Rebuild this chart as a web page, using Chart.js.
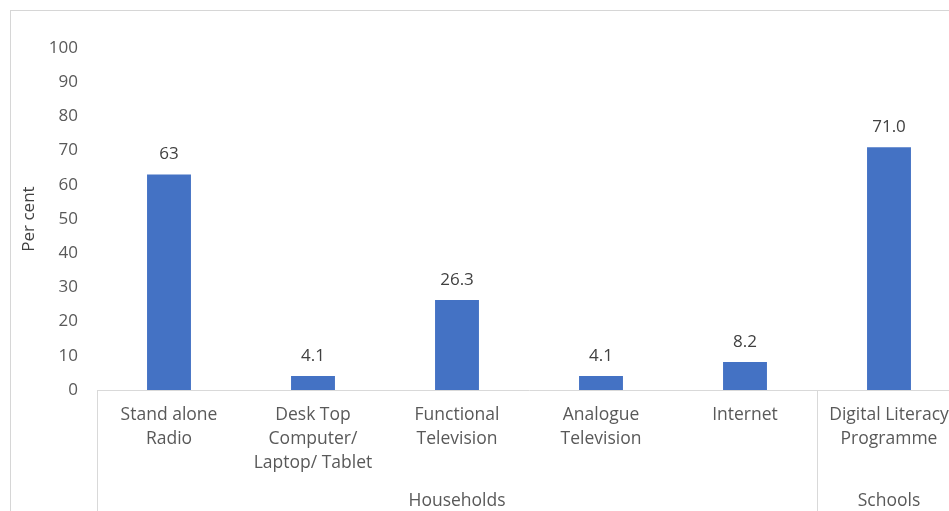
<!DOCTYPE html>
<html lang="en">
<head>
    <meta charset="UTF-8">
    <title>Access to ICT</title>
    <script src="https://cdn.jsdelivr.net/npm/chart.js"></script>
    <style>
        html, body {
            margin: 0;
            padding: 0;
            background: #fff;
            overflow: hidden;
            width: 949px;
            height: 511px;
        }
        .frame {
            position: absolute;
            left: 10px;
            top: 10px;
            border-left: 1px solid #d6d6d6;
            border-top: 1px solid #d6d6d6;
        }
        canvas { display: block; }
    </style>
</head>
<body>
<div class="frame">
    <canvas id="bars" width="951" height="520"></canvas>
</div>
<script>
    // categories and values
    const categories = [
        ['Stand alone', 'Radio'],
        ['Desk Top', 'Computer/', 'Laptop/ Tablet'],
        ['Functional', 'Television'],
        ['Analogue', 'Television'],
        ['Internet'],
        ['Digital Literacy', 'Programme']
    ];
    const values = [63, 4.1, 26.3, 4.1, 8.2, 71.0];
    const decimals = [0, 1, 1, 1, 1, 1];
    const groupNames = ['Households', 'Schools'];
    const groupSizes = [5, 1];
    const yTicks = [0, 10, 20, 30, 40, 50, 60, 70, 80, 90, 100];

    const textGrey = '#595959';
    const lineGrey = '#d9d9d9';
    const fontFamily = '"Open Sans", "Noto Sans", sans-serif';
    const fontSize = 17;
    const labelSize = 17.5;

    // value labels, group separators and group names
    const extras = {
        id: 'extras',
        afterDraw(chart) {
            const ctx = chart.ctx;
            const x = chart.scales.x;
            const meta = chart.getDatasetMeta(0);
            ctx.save();
            ctx.font = fontSize + 'px ' + fontFamily;
            ctx.fillStyle = '#404040';
            ctx.textAlign = 'center';
            ctx.textBaseline = 'middle';
            meta.data.forEach((bar, i) => {
                ctx.fillText(values[i].toFixed(decimals[i]), bar.x, bar.y - 20);
            });

            const step = x.getPixelForValue(1) - x.getPixelForValue(0);
            const bottom = chart.height;
            ctx.strokeStyle = lineGrey;
            ctx.lineWidth = 1;
            let start = 0;
            const edges = [0];
            groupSizes.forEach(n => { start += n; edges.push(start); });
            edges.forEach(e => {
                const px = Math.round(x.getPixelForValue(0) - step / 2 + e * step) + 0.5;
                ctx.beginPath();
                ctx.moveTo(px, x.top);
                ctx.lineTo(px, bottom);
                ctx.stroke();
            });

            ctx.font = labelSize + 'px ' + fontFamily;
            ctx.fillStyle = textGrey;
            for (let g = 0; g < groupNames.length; g++) {
                const a = x.getPixelForValue(0) - step / 2 + edges[g] * step;
                const b = x.getPixelForValue(0) - step / 2 + edges[g + 1] * step;
                ctx.fillText(groupNames[g], (a + b) / 2, 490);
            }
            ctx.restore();
        }
    };

    new Chart(document.getElementById('bars'), {
        type: 'bar',
        data: {
            labels: categories,
            datasets: [{
                data: values,
                backgroundColor: '#4472c4',
                barPercentage: 0.61,
                categoryPercentage: 0.5
            }]
        },
        options: {
            responsive: false,
            animation: false,
            layout: { padding: { top: 37, right: 1, left: 0, bottom: 0 } },
            plugins: {
                legend: { display: false },
                tooltip: { enabled: false }
            },
            scales: {
                x: {
                    grid: { display: false, drawTicks: false },
                    border: { display: true, color: lineGrey, width: 1 },
                    ticks: {
                        color: textGrey,
                        font: { family: fontFamily, size: labelSize, lineHeight: 24 / labelSize },
                        padding: 13,
                        maxRotation: 0,
                        autoSkip: false
                    },
                    afterFit(scale) { scale.height = 141; }
                },
                y: {
                    min: 0,
                    max: 100,
                    afterBuildTicks(scale) { scale.ticks = yTicks.map(v => ({ value: v })); },
                    grid: { display: false, drawTicks: false },
                    border: { display: false },
                    ticks: {
                        color: textGrey,
                        font: { family: fontFamily, size: fontSize },
                        padding: 19
                    },
                    title: {
                        display: true,
                        text: 'Per cent',
                        color: '#404040',
                        font: { family: fontFamily, size: fontSize },
                        padding: { top: 8, bottom: 0 }
                    },
                    afterFit(scale) { scale.width = 86; }
                }
            }
        },
        plugins: [extras]
    });
</script>
</body>
</html>
